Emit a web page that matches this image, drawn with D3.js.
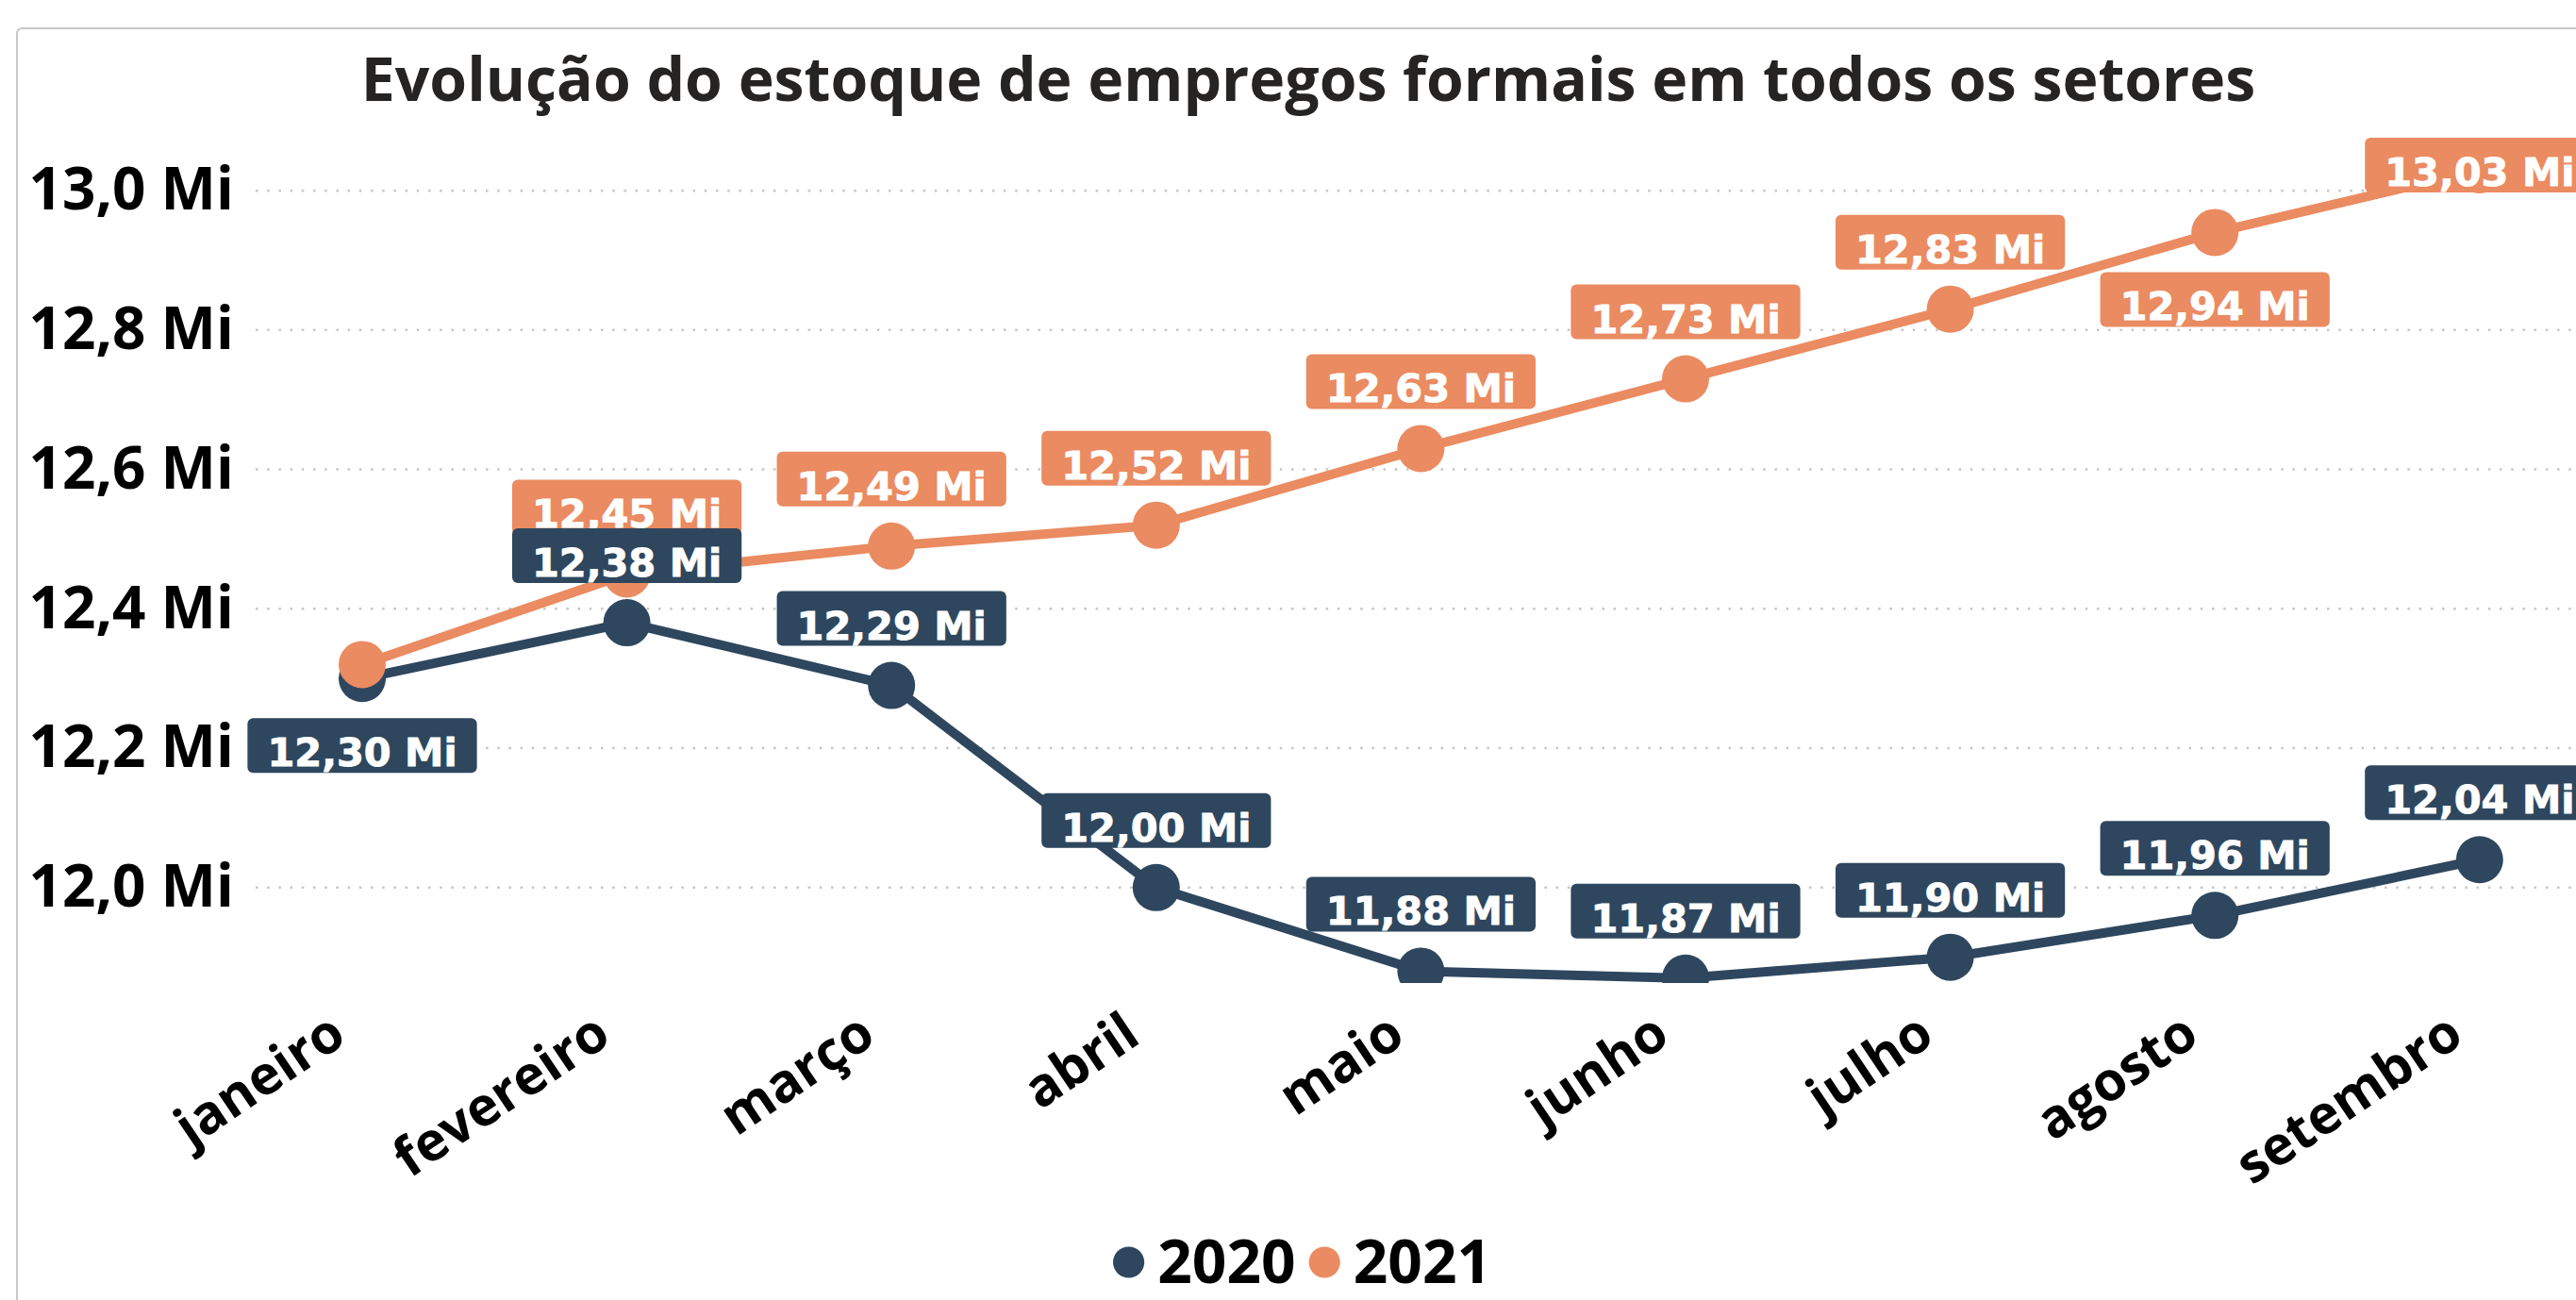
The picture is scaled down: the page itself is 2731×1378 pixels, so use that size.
<!DOCTYPE html>
<html>
<head>
<meta charset="utf-8">
<script src="https://cdn.jsdelivr.net/npm/d3@7"></script>
<style>
  html, body { margin: 0; padding: 0; background: #ffffff; overflow: hidden; }
  svg { display: block; }
</style>
</head>
<body>
<svg id="chart" width="2731" height="1378"></svg>
<script>
// ---- data ----
const months = ["janeiro", "fevereiro", "março", "abril", "maio", "junho", "julho", "agosto", "setembro"];
const values2020 = [12.30, 12.38, 12.29, 12.00, 11.88, 11.87, 11.90, 11.96, 12.04];
const values2021 = [12.32, 12.45, 12.49, 12.52, 12.63, 12.73, 12.83, 12.94, 13.03];
const seriesNames = ["2020", "2021"];
const yTicks = [12.0, 12.2, 12.4, 12.6, 12.8, 13.0];
const titleText = "Evolução do estoque de empregos formais em todos os setores";
// data-label placement per point (above / below / none)
const labelPlace2020 = ["below", "above", "above", "above", "above", "above", "above", "above", "above"];
const labelPlace2021 = ["none", "above", "above", "above", "above", "above", "above", "below", "above"];

// ---- layout / style ----
const W = 2731, H = 1378;
const colors = { "2020": "#2E475E", "2021": "#EA8B61" };
const plotTop = 146, plotBottom = 1042, gridLeft = 271;
const svg = d3.select("#chart");

const x = d3.scalePoint().domain(months).range([243.7, 2769.1]).padding(0.5);
const y = d3.scaleLinear().domain([11.863, 13.076]).range([plotBottom, plotTop]);

const fmtVal = v => d3.format(".2f")(v).replace(".", ",") + " Mi";
const fmtTick = v => d3.format(".1f")(v).replace(".", ",") + " Mi";

// frame
svg.append("path")
  .attr("d", `M18,${H + 10} L18,36 Q18,30 24,30 L${W + 10},30`)
  .attr("fill", "none").attr("stroke", "#c8c8c8").attr("stroke-width", 2);

// title
svg.append("text")
  .attr("x", 1387).attr("y", 107)
  .attr("text-anchor", "middle")
  .style("font-family", "'Open Sans', sans-serif")
  .style("font-weight", 700).style("font-size", "64.3px")
  .style("fill", "#252423")
  .text(titleText);

// gridlines
svg.append("g").selectAll("line").data(yTicks).join("line")
  .attr("x1", gridLeft).attr("x2", W)
  .attr("y1", d => y(d)).attr("y2", d => y(d))
  .attr("stroke", "#c8c6c4").attr("stroke-width", 2.5)
  .attr("stroke-dasharray", "2.5 9.7");

// y axis
const yAxis = svg.append("g").attr("transform", "translate(248,0)")
  .call(d3.axisLeft(y).tickValues(yTicks).tickFormat(fmtTick).tickSize(0).tickPadding(0));
yAxis.select(".domain").remove();
yAxis.selectAll("text")
  .style("font-family", "'Open Sans', sans-serif")
  .style("font-weight", 700).style("font-size", "62px").style("fill", "#000");

// x axis
const xAxis = svg.append("g").attr("transform", "translate(0,1104)")
  .call(d3.axisBottom(x).tickSize(0).tickPadding(0));
xAxis.select(".domain").remove();
xAxis.selectAll("text")
  .attr("x", 0).attr("y", 0).attr("dy", 0)
  .attr("text-anchor", "end")
  .attr("transform", "translate(-15,0) rotate(-34)")
  .style("font-family", "'Open Sans', sans-serif")
  .style("font-weight", 700).style("font-size", "57px").style("fill", "#000");

// clip for marks
svg.append("clipPath").attr("id", "plotclip")
  .append("rect").attr("x", 0).attr("y", 60).attr("width", W).attr("height", plotBottom - 60);

const series = [
  { name: "2020", values: values2020, place: labelPlace2020 },
  { name: "2021", values: values2021, place: labelPlace2021 }
];

const marks = svg.append("g").attr("clip-path", "url(#plotclip)");
const line = d3.line().x((d, i) => x(months[i])).y(d => y(d));
series.forEach(s => {
  const g = marks.append("g");
  g.append("path").datum(s.values)
    .attr("d", line)
    .attr("fill", "none").attr("stroke", colors[s.name])
    .attr("stroke-width", 10).attr("stroke-linejoin", "round");
  g.selectAll("circle").data(s.values).join("circle")
    .attr("cx", (d, i) => x(months[i])).attr("cy", d => y(d))
    .attr("r", 25).attr("fill", colors[s.name]);
});

// data labels (2021 first, 2020 on top)
const labelsG = svg.append("g");
const boxH = 58, gap = 42, padX = 21;
[series[1], series[0]].forEach(s => {
  s.values.forEach((v, i) => {
    const p = s.place[i];
    if (p === "none") return;
    const cx = x(months[i]), cy = y(v);
    let top = p === "above" ? cy - gap - boxH : cy + gap;
    if (top < plotTop) top = plotTop;
    const g = labelsG.append("g");
    const t = g.append("text")
      .attr("x", cx).attr("y", top + boxH - 7)
      .attr("text-anchor", "middle")
      .style("font-family", "'DejaVu Sans', sans-serif")
      .style("font-weight", 700).style("font-size", "41.5px")
      .style("fill", "#ffffff")
      .style("stroke", "#ffffff").style("stroke-width", "0.9px")
      .text(fmtVal(v));
    const tw = t.node().getComputedTextLength();
    g.insert("rect", "text")
      .attr("x", cx - tw / 2 - padX).attr("y", top)
      .attr("width", tw + 2 * padX).attr("height", boxH)
      .attr("rx", 6).attr("fill", colors[s.name]);
  });
});

// legend
const legend = svg.append("g");
const legY = 1338, legBase = 1360, r = 16.6;
let lx = 0;
seriesNames.forEach((n, k) => {
  const g = legend.append("g");
  g.append("circle").attr("cx", lx + r).attr("cy", legY).attr("r", r).attr("fill", colors[n]);
  const t = g.append("text").attr("x", lx + 2 * r + 14).attr("y", legBase)
    .style("font-family", "'Open Sans', sans-serif")
    .style("font-weight", 700).style("font-size", "64px").style("fill", "#000")
    .text(n);
  lx += 2 * r + 14 + t.node().getComputedTextLength() + 14;
});
legend.attr("transform", "translate(1180,0)");
</script>
</body>
</html>
